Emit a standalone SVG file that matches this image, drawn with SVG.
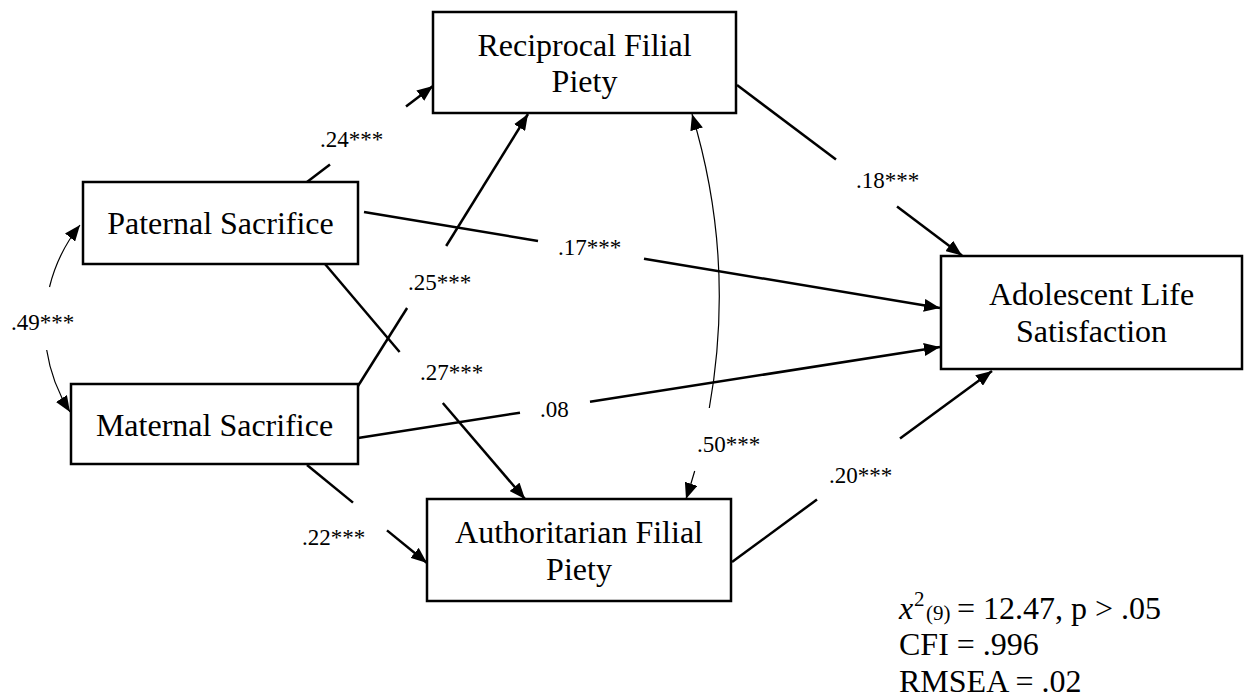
<svg xmlns="http://www.w3.org/2000/svg" width="1245" height="699" viewBox="0 0 1245 699">
<defs>
<style>
.box{fill:#fff;stroke:#000;stroke-width:2.5}
.nt{font-family:"Liberation Serif","Times New Roman",serif;font-size:32px;fill:#000;text-anchor:middle}
.lb{font-family:"Liberation Serif","Times New Roman",serif;font-size:23px;fill:#000}
.st{font-family:"Liberation Serif","Times New Roman",serif;font-size:32px;fill:#000}
.path{fill:none;stroke:#000;stroke-width:2.5}
.cov{fill:none;stroke:#000;stroke-width:1.2}
</style>
<marker id="arr" markerUnits="userSpaceOnUse" viewBox="0 0 16 13" markerWidth="16" markerHeight="13" refX="16" refY="6.5" orient="auto-start-reverse">
<path d="M0,0 L16,6.5 L0,13 z" fill="#000"/>
</marker>
</defs>
<rect width="1245" height="699" fill="#fff"/>

<g id="connectors">
<!-- Paternal -> Reciprocal .24 -->
<line class="path" x1="307" y1="182" x2="330" y2="164.5"/>
<line class="path" x1="406" y1="106.6" x2="433" y2="86" marker-end="url(#arr)"/>
<!-- Paternal -> Adolescent .17 -->
<line class="path" x1="364" y1="212" x2="538" y2="241"/>
<line class="path" x1="644" y1="258.7" x2="940" y2="308" marker-end="url(#arr)"/>
<!-- Paternal -> Authoritarian .27 -->
<line class="path" x1="325" y1="264" x2="399.6" y2="352"/>
<line class="path" x1="442.8" y1="403" x2="525" y2="499" marker-end="url(#arr)"/>
<!-- Maternal -> Reciprocal .25 -->
<line class="path" x1="358" y1="386" x2="407.1" y2="308"/>
<line class="path" x1="446.2" y1="246" x2="528" y2="114" marker-end="url(#arr)"/>
<!-- Maternal -> Adolescent .08 -->
<line class="path" x1="358" y1="438" x2="520" y2="412.7"/>
<line class="path" x1="590" y1="401.8" x2="940" y2="347" marker-end="url(#arr)"/>
<!-- Maternal -> Authoritarian .22 -->
<line class="path" x1="307" y1="465" x2="353" y2="502.6"/>
<line class="path" x1="387" y1="530.4" x2="427" y2="563" marker-end="url(#arr)"/>
<!-- Reciprocal -> Adolescent .18 -->
<line class="path" x1="737" y1="85" x2="836" y2="159.6"/>
<line class="path" x1="897" y1="206.5" x2="962" y2="255.5" marker-end="url(#arr)"/>
<!-- Authoritarian -> Adolescent .20 -->
<line class="path" x1="732" y1="562" x2="817" y2="499.5"/>
<line class="path" x1="900" y1="438.5" x2="992" y2="371" marker-end="url(#arr)"/>
<!-- Covariance Paternal <-> Maternal .49 -->
<path class="cov" d="M80,225 A160.7,160.7 0 0,0 49.5,287" marker-start="url(#arr)"/>
<path class="cov" d="M46.7,350 A160.7,160.7 0 0,0 70,412" marker-end="url(#arr)"/>
<!-- Covariance Reciprocal <-> Authoritarian .50 -->
<path class="cov" d="M692,114 A632.6,632.6 0 0,1 709.3,408" marker-start="url(#arr)"/>
<path class="cov" d="M694.7,471 A632.6,632.6 0 0,1 686,499" marker-end="url(#arr)"/>
<!-- labels -->
<text class="lb" x="320" y="147">.24***</text>
<text class="lb" x="558" y="255">.17***</text>
<text class="lb" x="408" y="290">.25***</text>
<text class="lb" x="420" y="380">.27***</text>
<text class="lb" x="540" y="417">.08</text>
<text class="lb" x="302" y="545">.22***</text>
<text class="lb" x="697" y="452">.50***</text>
<text class="lb" x="856" y="188">.18***</text>
<text class="lb" x="829" y="483">.20***</text>
<text class="lb" x="11" y="330">.49***</text>
</g>

<g id="reciprocal">
<rect class="box" x="433" y="12" width="303" height="101"/>
<text class="nt" x="584.5" y="56">Reciprocal Filial</text>
<text class="nt" x="584.5" y="92">Piety</text>
</g>

<g id="paternal">
<rect class="box" x="83" y="182" width="275" height="82"/>
<text class="nt" x="220.5" y="234">Paternal Sacrifice</text>
</g>

<g id="maternal">
<rect class="box" x="71" y="384" width="287" height="80"/>
<text class="nt" x="214.5" y="436">Maternal Sacrifice</text>
</g>

<g id="authoritarian">
<rect class="box" x="427" y="499" width="304" height="102"/>
<text class="nt" x="579" y="543">Authoritarian Filial</text>
<text class="nt" x="579" y="580">Piety</text>
</g>

<g id="adolescent">
<rect class="box" x="941" y="256" width="301" height="113"/>
<text class="nt" x="1091.5" y="305">Adolescent Life</text>
<text class="nt" x="1091.5" y="342">Satisfaction</text>
</g>

<g id="fit">
<text class="st" x="899" y="619"><tspan font-style="italic">x</tspan><tspan x="914" y="606" font-size="21">2</tspan><tspan x="926" y="620" font-size="21">(9)</tspan><tspan x="957" y="619">= 12.47, p &gt; .05</tspan></text>
<text class="st" x="899" y="655">CFI = .996</text>
<text class="st" x="899" y="692">RMSEA = .02</text>
</g>
</svg>
